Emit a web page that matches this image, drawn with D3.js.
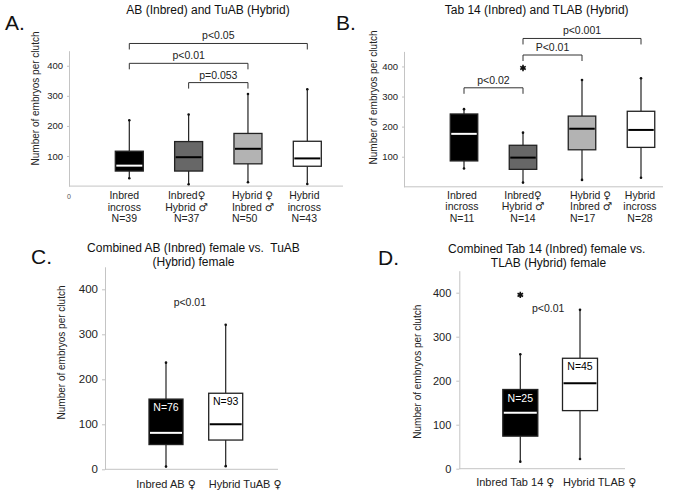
<!DOCTYPE html>
<html><head><meta charset="utf-8">
<script src="https://cdn.jsdelivr.net/npm/d3@7"></script>
<style>
body{margin:0;background:#fff;}
svg{display:block;font-family:"Liberation Sans",Arial,Helvetica,sans-serif;}
</style></head><body>
<svg id="chart" width="674" height="494"></svg>
<script>
// ---------------- DATA ----------------
// Panel A: AB (Inbred) and TuAB (Hybrid)
const catsA = ["Inbred incross", "Inbred♀ Hybrid♂", "Hybrid♀ Inbred♂", "Hybrid incross"];
const labelsA = [["Inbred", "incross", "N=39"], ["Inbred♀", "Hybrid ♂", "N=37"], ["Hybrid ♀", "Inbred ♂", "N=50"], ["Hybrid", "incross", "N=43"]];
const lowA = [26, 6, 13, 7];
const q1A = [50, 50, 74, 66];
const medA = [68, 96, 124, 92];
const q3A = [116, 148, 175, 149];
const highA = [219, 238, 306, 322];
const outA = [[], [], [], []];
const brFromA = [0, 0, 1];
const brToA = [3, 2, 2];
const brLevelA = [474, 408, 344];
const brTextA = ["p<0.05", "p<0.01", "p=0.053"];

// Panel B: Tab 14 (Inbred) and TLAB (Hybrid)
const catsB = ["Inbred incross", "Inbred♀ Hybrid♂", "Hybrid♀ Inbred♂", "Hybrid incross"];
const labelsB = [["Inbred", "incross", "N=11"], ["Inbred♀", "Hybrid ♂", "N=14"], ["Hybrid ♀", "Inbred ♂", "N=17"], ["Hybrid", "incross", "N=28"]];
const lowB = [61, 14, 23, 30];
const q1B = [86, 58, 123, 131];
const medB = [176, 97, 193, 189];
const q3B = [242, 138, 235, 251];
const highB = [258, 180, 355, 361];
const outB = [[], [395], [], []];
const brFromB = [1, 1, 0];
const brToB = [3, 2, 1];
const brLevelB = [493, 438, 329];
const brTextB = ["p<0.001", "P<0.01", "p<0.02"];

// Panel C: Combined AB (Inbred) female vs. TuAB (Hybrid) female
const catsC = ["Inbred AB ♀", "Hybrid TuAB ♀"];
const labelsC = [["Inbred AB ♀"], ["Hybrid TuAB ♀"]];
const nC = ["N=76", "N=93"];
const lowC = [6, 7];
const q1C = [55, 65];
const medC = [81, 100];
const q3C = [156, 169];
const highC = [237, 321];
const outC = [[], []];
const pTextC = "p<0.01";
const pLevelC = 364;

// Panel D: Combined Tab 14 (Inbred) female vs. TLAB (Hybrid) female
const catsD = ["Inbred Tab 14 ♀", "Hybrid TLAB ♀"];
const labelsD = [["Inbred Tab 14 ♀"], ["Hybrid TLAB ♀"]];
const nD = ["N=25", "N=45"];
const lowD = [16, 22];
const q1D = [74, 132];
const medD = [127, 194];
const q3D = [180, 251];
const highD = [260, 361];
const outD = [[395], []];
const pTextD = "p<0.01";
const pLevelD = 357;

const ticksAB = [100, 200, 300, 400];
const ticksCD = [0, 100, 200, 300, 400];

// ---------------- STYLES / LAYOUT ----------------
const fill4 = ["#000000", "#676767", "#b3b3b3", "#ffffff"];
const medCol4 = ["#ffffff", "#000000", "#000000", "#000000"];
const fill2 = ["#000000", "#ffffff"];
const medCol2 = ["#ffffff", "#000000"];
const nCol2 = ["#ffffff", "#000000"];

const svg = d3.select("#chart");
const FONT = '"Liberation Sans",Arial,Helvetica,sans-serif';

function setLabel(sel, t) {
  t.split(/([♀♂])/).filter(s => s.length).forEach(part => {
    const ts = sel.append("tspan").text(part);
    if (part === "♀" || part === "♂") ts.attr("font-family", '"DejaVu Sans",sans-serif');
  });
}

function drawPanel(cfg, d) {
  const g = svg.append("g");
  const x = d3.scalePoint().domain(d.cats).range(cfg.centers);
  const y = d3.scaleLinear().domain([0, 450]).range([cfg.y0, cfg.yTop]);

  // y axis
  const ax = d3.axisLeft(y).tickValues(d.ticks).tickSize(cfg.tickSize).tickPadding(cfg.tickPad).tickSizeOuter(0);
  const ya = g.append("g").attr("transform", `translate(${cfg.axisX},0)`).call(ax)
    .attr("font-family", FONT).attr("font-size", cfg.tickFont);
  ya.select(".domain").attr("stroke", "#c4c4c4");
  ya.selectAll(".tick line").attr("stroke", "#c4c4c4");
  ya.selectAll(".tick text").attr("fill", "#222");

  // x axis line
  g.append("line").attr("x1", cfg.axisX).attr("x2", cfg.xEnd)
    .attr("y1", y(0)).attr("y2", y(0)).attr("stroke", "#c4c4c4").attr("stroke-width", 1);

  // y label
  g.append("text").attr("transform", `translate(${cfg.ylabX},${cfg.ylabY}) rotate(-90)`)
    .attr("text-anchor", "middle").attr("dominant-baseline", "central")
    .attr("font-size", cfg.ylabFont).attr("fill", "#222").text("Number of embryos per clutch");

  // titles
  cfg.title.forEach((t, i) => {
    g.append("text").attr("x", cfg.titleX[i]).attr("y", cfg.titleY[i])
      .attr("text-anchor", "middle").attr("font-size", 12).attr("fill", "#111")
      .style("white-space", "pre").text(t);
  });
  // panel letter
  g.append("text").attr("x", cfg.letterX).attr("y", cfg.letterY)
    .attr("font-size", 21).attr("fill", "#111").text(cfg.letter);

  // boxes
  d.cats.forEach((c, i) => {
    const cx = x(c), bw = cfg.bw;
    [[d.high[i], d.q3[i]], [d.q1[i], d.low[i]]].forEach(([a, b]) => {
      g.append("line").attr("x1", cx).attr("x2", cx).attr("y1", y(a)).attr("y2", y(b))
        .attr("stroke", "#222").attr("stroke-width", 1.2);
    });
    [d.high[i], d.low[i]].forEach(v => {
      g.append("circle").attr("cx", cx).attr("cy", y(v)).attr("r", 1.3).attr("fill", "#111");
    });
    g.append("rect").attr("x", cx - bw / 2).attr("y", y(d.q3[i]))
      .attr("width", bw).attr("height", y(d.q1[i]) - y(d.q3[i]))
      .attr("fill", cfg.fills[i]).attr("stroke", "#222").attr("stroke-width", 1.3);
    g.append("line").attr("x1", cx - bw / 2 + 1).attr("x2", cx + bw / 2 - 1)
      .attr("y1", y(d.med[i])).attr("y2", y(d.med[i]))
      .attr("stroke", cfg.medCols[i]).attr("stroke-width", 2);
    d.out[i].forEach(v => {
      g.append("path").attr("transform", `translate(${cx},${y(v)})`)
        .attr("d", d3.symbol(d3.symbolAsterisk, 28)())
        .attr("stroke", "#111").attr("stroke-width", 1.6).attr("fill", "none");
      g.append("circle").attr("cx", cx).attr("cy", y(v)).attr("r", 1.6).attr("fill", "#111");
    });
    if (d.n) {
      g.append("text").attr("x", cx).attr("y", y(d.q3[i]) + 12)
        .attr("text-anchor", "middle").attr("font-size", 10.5).attr("fill", cfg.nCols[i]).text(d.n[i]);
    }
    d.labels[i].forEach((t, j) => {
      const tx = g.append("text").attr("x", cx + cfg.labDx[i]).attr("y", cfg.labY0 + j * cfg.labLH)
        .attr("text-anchor", cfg.labAnchor[i]).attr("font-size", cfg.labFont).attr("fill", "#222");
      setLabel(tx, t);
    });
  });

  if (d.brFrom) {
    d.brFrom.forEach((f, k) => {
      const x1 = x(d.cats[f]), x2 = x(d.cats[d.brTo[k]]), yy = y(d.brLevel[k]);
      g.append("path").attr("d", `M${x1},${yy + 6}V${yy}H${x2}V${yy + 6}`)
        .attr("fill", "none").attr("stroke", "#333").attr("stroke-width", 1);
      g.append("text").attr("x", (x1 + x2) / 2).attr("y", yy - 4)
        .attr("text-anchor", "middle").attr("font-size", 10.5).attr("fill", "#222").text(d.brText[k]);
    });
  }
  if (d.pText) {
    const mx = (x(d.cats[0]) + x(d.cats[1])) / 2 + cfg.pDx;
    g.append("text").attr("x", mx).attr("y", y(d.pLevel))
      .attr("text-anchor", "middle").attr("font-size", 10.5).attr("fill", "#222").text(d.pText);
  }
  return {g, x, y};
}

// Panel A
const pA = drawPanel({
  centers: [129.3, 307.3], y0: 186.1, yTop: 50.7, axisX: 69, xEnd: 343, bw: 28,
  tickFont: 9.5, tickSize: 2, tickPad: 4, ylabX: 35, ylabY: 98.5, ylabFont: 10,
  title: ["AB (Inbred) and TuAB (Hybrid)"], titleX: [208], titleY: [13.5],
  letter: "A.", letterX: 5, letterY: 30,
  fills: fill4, medCols: medCol4,
  labY0: 199, labLH: 11.5, labFont: 10.5, labAnchor: ["middle", "middle", "start", "middle"], labDx: [-5, -2, -16, -3]
}, {cats: catsA, labels: labelsA, low: lowA, q1: q1A, med: medA, q3: q3A, high: highA, out: outA,
    brFrom: brFromA, brTo: brToA, brLevel: brLevelA, brText: brTextA, ticks: ticksAB});
pA.g.append("text").attr("x", 69).attr("y", 199).attr("text-anchor", "middle")
  .attr("font-size", 7).attr("fill", "#555").text("0");

// Panel B
drawPanel({
  centers: [464, 641], y0: 186.8, yTop: 51.4, axisX: 404, xEnd: 663, bw: 27.5,
  tickFont: 9.5, tickSize: 2, tickPad: 4, ylabX: 373, ylabY: 97.5, ylabFont: 10,
  title: ["Tab 14 (Inbred) and TLAB (Hybrid)"], titleX: [536.7], titleY: [13.5],
  letter: "B.", letterX: 336, letterY: 30,
  fills: fill4, medCols: medCol4,
  labY0: 198.5, labLH: 11.5, labFont: 10.5, labAnchor: ["middle", "middle", "start", "middle"], labDx: [-2, 0, -12, -1]
}, {cats: catsB, labels: labelsB, low: lowB, q1: q1B, med: medB, q3: q3B, high: highB, out: outB,
    brFrom: brFromB, brTo: brToB, brLevel: brLevelB, brText: brTextB, ticks: ticksAB});

// Panel C
drawPanel({
  centers: [166, 225.7], y0: 469.3, yTop: 266.8, axisX: 105, xEnd: 278, bw: 34,
  tickFont: 11.5, tickSize: 3, tickPad: 4, ylabX: 61, ylabY: 352.5, ylabFont: 10,
  title: ["Combined AB (Inbred) female vs.  TuAB", "(Hybrid) female"], titleX: [193.5, 193.5], titleY: [251.7, 266],
  letter: "C.", letterX: 31, letterY: 264,
  fills: fill2, medCols: medCol2, nCols: nCol2, pDx: -6,
  labY0: 488.3, labLH: 12, labFont: 11, labAnchor: ["middle", "start"], labDx: [0, -17]
}, {cats: catsC, labels: labelsC, n: nC, low: lowC, q1: q1C, med: medC, q3: q3C, high: highC, out: outC,
    pText: pTextC, pLevel: pLevelC, ticks: ticksCD});

// Panel D
drawPanel({
  centers: [520.3, 580], y0: 468.7, yTop: 270.7, axisX: 459.3, xEnd: 625, bw: 35,
  tickFont: 11, tickSize: 3, tickPad: 5, ylabX: 417.3, ylabY: 371.7, ylabFont: 10,
  title: ["Combined Tab 14 (Inbred) female vs.", "TLAB (Hybrid) female"], titleX: [546.7, 548.5], titleY: [252.7, 266.7],
  letter: "D.", letterX: 378, letterY: 265,
  fills: fill2, medCols: medCol2, nCols: nCol2, pDx: -2,
  labY0: 485.7, labLH: 12, labFont: 11, labAnchor: ["middle", "start"], labDx: [-5, -17]
}, {cats: catsD, labels: labelsD, n: nD, low: lowD, q1: q1D, med: medD, q3: q3D, high: highD, out: outD,
    pText: pTextD, pLevel: pLevelD, ticks: ticksCD});
</script>
</body></html>
